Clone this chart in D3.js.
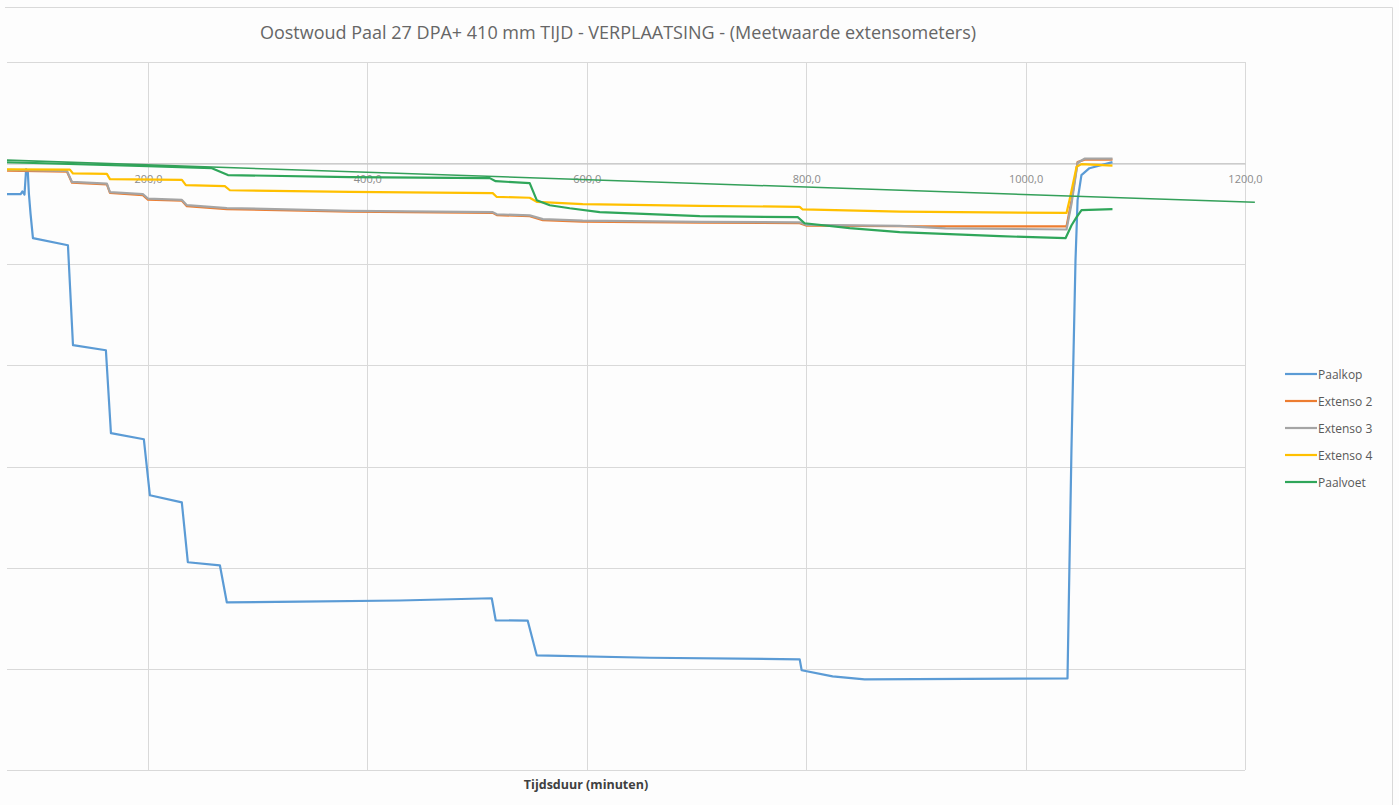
<!DOCTYPE html>
<html>
<head>
<meta charset="utf-8">
<script src="https://cdn.jsdelivr.net/npm/d3@7"></script>
<style>
    body { margin: 0; background: #fdfdfd; }
    text { font-family: "Open Sans", "Liberation Sans", sans-serif; }
</style>
</head>
<body>
<div id="chart"></div>
<script>
// meetwaarden [tijd (min), verplaatsing (mm)]
const paalkop = [
    [68, -1.53], [84, -1.53], [85.5, -1.4], [87.5, -1.55], [89, -0.3], [90.5, -0.4], [91.5, -1.5], [93, -2.5],
    [95.2, -3.71], [127.1, -4.06], [131.7, -9.0], [161.7, -9.25], [166.3, -13.35], [196.3, -13.65],
    [201.8, -16.42], [230.9, -16.77], [236.4, -19.73], [265.6, -19.88], [271.9, -21.71], [338.5, -21.68],
    [429.6, -21.62], [513.4, -21.51], [517.0, -22.6], [546.2, -22.62], [554.4, -24.33], [657.4, -24.45],
    [794.1, -24.53], [795.9, -25.07], [824.1, -25.37], [853.3, -25.52], [1038.2, -25.47], [1041.8, -14.2],
    [1045.5, -4.8], [1047.4, -1.83], [1050.9, -0.59], [1058.2, -0.25], [1079.2, 0.05]
];
const extenso2 = [
    [68, -0.37], [126.2, -0.42], [130.8, -0.97], [162.6, -1.05], [165.4, -1.47], [195.4, -1.58],
    [200, -1.8], [231, -1.86], [235.5, -2.13], [272, -2.27], [384, -2.4], [514.3, -2.46], [518, -2.57],
    [548, -2.62], [560, -2.82], [596.3, -2.89], [703, -2.94], [794.1, -2.97], [800.5, -3.09],
    [885.2, -3.12], [1037.3, -3.13], [1041.9, -1.83], [1047.4, 0.05], [1053.7, 0.17], [1079.2, 0.17]
];
const extenso3 = [
    [68, -0.33], [126.2, -0.38], [130.8, -0.93], [162.6, -1.01], [165.4, -1.43], [195.4, -1.53],
    [200, -1.75], [231, -1.82], [235.5, -2.08], [272, -2.22], [384, -2.36], [514.3, -2.42], [518, -2.53],
    [548, -2.58], [560, -2.77], [596.3, -2.84], [703, -2.9], [794.1, -2.93], [800.5, -3.05],
    [885.2, -3.1], [927, -3.22], [1037.3, -3.28], [1041.9, -2.0], [1047.4, 0.02], [1053.7, 0.22], [1079.2, 0.22]
];
const extenso4 = [
    [68, -0.31], [128.9, -0.32], [131.7, -0.51], [162.6, -0.53], [165.4, -0.79], [231, -0.83],
    [234.6, -1.09], [270.1, -1.14], [274.7, -1.34], [384, -1.42], [514.3, -1.48], [518, -1.67],
    [548, -1.71], [554.4, -1.91], [596.3, -2.03], [703, -2.11], [794.1, -2.16], [796.8, -2.29],
    [885.2, -2.4], [1037.3, -2.46], [1040, -1.83], [1046.5, -0.18], [1051, -0.05], [1079.2, -0.12]
];
const paalvoet = [
    [68, 0.05], [200, -0.15], [258.3, -0.25], [272.9, -0.59], [384, -0.69], [511.6, -0.74],
    [517.0, -0.89], [548, -0.99], [554.4, -1.83], [566.3, -2.08], [584.5, -2.23], [611.8, -2.42],
    [703, -2.62], [792.3, -2.67], [798.6, -2.97], [839.6, -3.21], [885.2, -3.41], [976.3, -3.61],
    [1036.4, -3.71], [1041.9, -3.07], [1046.5, -2.67], [1051, -2.32], [1079.2, -2.27]
];
const paalvoetTrend = [[0, 0.28], [1209, -1.93]];

const seriesNames = ['Paalkop', 'Extenso 2', 'Extenso 3', 'Extenso 4', 'Paalvoet'];
const seriesData = [paalkop, extenso2, extenso3, extenso4, paalvoet];
const seriesColors = ['#5b9bd5', '#ed7d31', '#a5a5a5', '#ffc000', '#2fa65a'];
const xTicks = [0, 200, 400, 600, 800, 1000, 1200];
const xLabels = [200, 400, 600, 800, 1000, 1200];
const yTicks = [-30, -25, -20, -15, -10, -5, 0, 5];

const W = 1399, H = 805;
const svg = d3.select('#chart').append('svg').attr('width', W).attr('height', H);

// grafiekvlak rand
svg.append('path')
    .attr('d', `M5,7.5H1392.5V${H}`)
    .attr('fill', 'none').attr('stroke', '#d9d9d9');

// schalen (linkerdeel van de grafiek valt buiten beeld)
var x = d3.scaleLinear().domain([0, 1200]).range([-71.5, 1245]);
var y = d3.scaleLinear().domain([-30, 5]).range([770, 62]);

svg.append('clipPath').attr('id', 'clip')
    .append('rect').attr('x', 7).attr('y', 0).attr('width', W).attr('height', H);

var g = svg.append('g').attr('clip-path', 'url(#clip)');

// rasterlijnen
g.append('g').selectAll('line').data(yTicks).enter().append('line')
    .attr('x1', x(0)).attr('x2', x(1200))
    .attr('y1', d => Math.round(y(d)) + 0.5).attr('y2', d => Math.round(y(d)) + 0.5)
    .attr('stroke', '#d9d9d9');
g.append('g').selectAll('line').data(xTicks).enter().append('line')
    .attr('x1', d => Math.round(x(d)) + 0.5).attr('x2', d => Math.round(x(d)) + 0.5)
    .attr('y1', y(5)).attr('y2', y(-30))
    .attr('stroke', '#d9d9d9');

// X-as op nullijn
var axisX = g.append('g')
    .attr('transform', `translate(0,${Math.round(y(0)) + 0.5})`)
    .call(d3.axisBottom(x).tickValues(xLabels)
        .tickFormat(d => d3.format('.1f')(d).replace('.', ','))
        .tickSize(0).tickPadding(12));
axisX.select('.domain').attr('stroke', '#bfbfbf');
axisX.selectAll('text').attr('font-size', 11).attr('fill', '#8c8c8c')
    .style('font-family', '"Open Sans", sans-serif');

// lijnen
var line = d3.line().x(d => x(d[0])).y(d => y(d[1]));
g.selectAll('path.serie')
    .data(seriesData)
    .enter().append('path')
    .attr('class', 'serie')
    .attr('d', line)
    .attr('fill', 'none')
    .attr('stroke', (d, i) => seriesColors[i])
    .attr('stroke-width', 2.2)
    .attr('stroke-linejoin', 'round');

g.append('path')
    .attr('d', line(paalvoetTrend))
    .attr('fill', 'none')
    .attr('stroke', '#34a05a')
    .attr('stroke-width', 1.5);

// titel
svg.append('text')
    .attr('x', 618).attr('y', 39)
    .attr('text-anchor', 'middle')
    .attr('font-size', 18).attr('fill', '#666')
    .text('Oostwoud Paal 27 DPA+ 410 mm TIJD - VERPLAATSING - (Meetwaarde extensometers)');

svg.append('text')
    .attr('x', 586).attr('y', 789)
    .attr('text-anchor', 'middle')
    .attr('font-size', 12.5).attr('font-weight', 'bold').attr('fill', '#404040')
    .text('Tijdsduur (minuten)');

// legenda
var legend = svg.append('g').attr('transform', 'translate(1285,374)');
var item = legend.selectAll('g').data(seriesNames).enter().append('g')
    .attr('transform', (d, i) => `translate(0,${i * 27})`);
item.append('line')
    .attr('x1', 0).attr('x2', 32).attr('y1', 0).attr('y2', 0)
    .attr('stroke', (d, i) => seriesColors[i]).attr('stroke-width', 2.2);
item.append('text')
    .attr('x', 33).attr('y', 4.5)
    .attr('font-size', 12).attr('fill', '#595959')
    .text(d => d);
</script>
</body>
</html>
